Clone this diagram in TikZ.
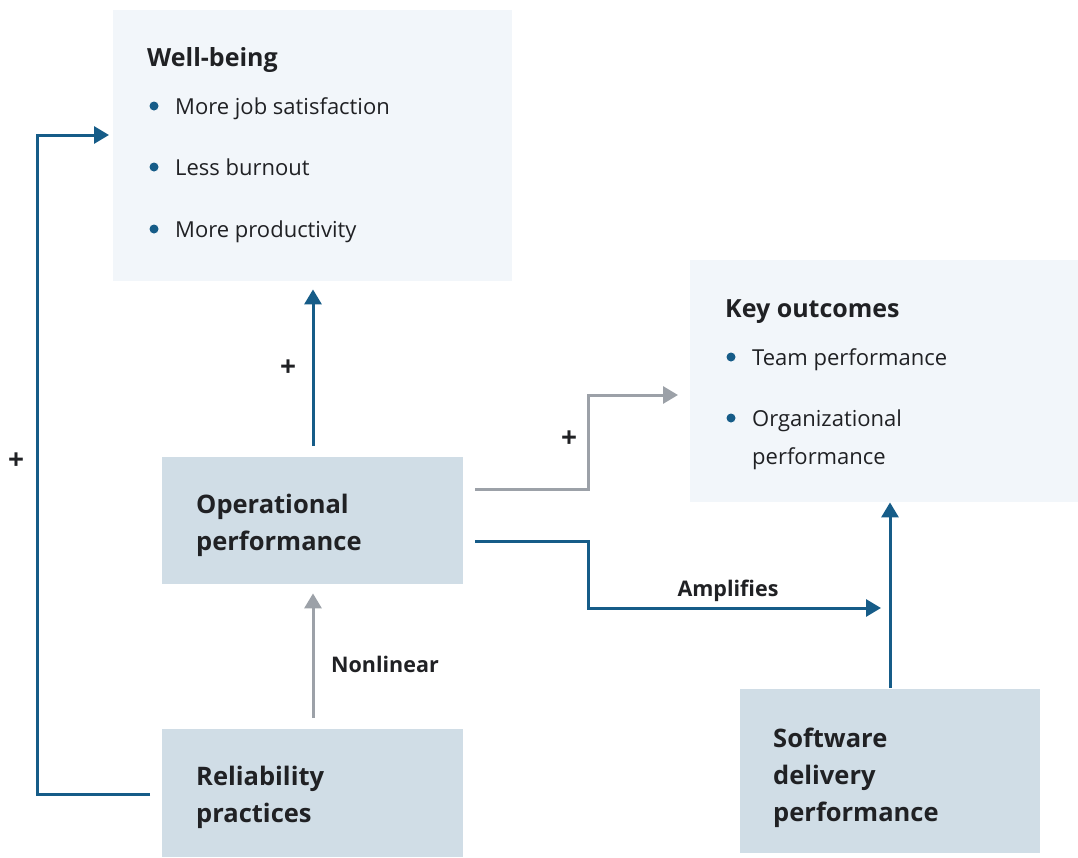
\documentclass[tikz,border=0pt]{standalone}
\usepackage{fontspec}
\setmainfont{Open Sans}
\usetikzlibrary{arrows.meta,calc}
\definecolor{lightbox}{HTML}{F2F6FA}
\definecolor{darkbox}{HTML}{D0DDE6}
\definecolor{arrblue}{HTML}{165C88}
\definecolor{arrgray}{HTML}{9CA1A8}
\definecolor{txt}{HTML}{202124}
\tikzset{
  panel/.style={fill=lightbox,draw=none,inner sep=0,anchor=north west},
  block/.style={fill=darkbox,draw=none,inner sep=0,anchor=north west},
  bluearr/.style={draw=arrblue,line width=3pt,-{Triangle[length=15pt,width=17pt]}},
  grayarr/.style={draw=arrgray,line width=3pt,-{Triangle[length=15pt,width=17pt]}},
  ttl/.style={inner sep=0,anchor=base west,font=\fontsize{25}{30}\selectfont\bfseries,text=txt},
  bigttl/.style={inner sep=0,anchor=base west,font=\fontsize{25.5}{30}\selectfont\bfseries,text=txt},
  item/.style={inner sep=0,anchor=base west,font=\fontsize{22}{26}\selectfont,text=txt},
  lbl/.style={inner sep=0,anchor=base,font=\fontsize{21.5}{26}\selectfont\bfseries,text=txt},
  plus/.style={inner sep=0,anchor=center,font=\fontsize{28}{30}\selectfont\bfseries,text=txt},
  dot/.style={circle,fill=arrblue,inner sep=0,minimum size=9pt}
}
\begin{document}
\begin{tikzpicture}[x=1pt,y=-1pt]
\useasboundingbox (0,0) rectangle (1078,857);
% boxes
\node[panel,minimum width=399pt,minimum height=271pt] (wb) at (113,10) {};
\node[panel,minimum width=388pt,minimum height=242pt] (ko) at (690,260) {};
\node[block,minimum width=301pt,minimum height=127pt] (op) at (162,457) {};
\node[block,minimum width=301pt,minimum height=128pt] (rel) at (162,729) {};
\node[block,minimum width=300pt,minimum height=164pt] (sd) at (740,689) {};
% texts
\node[ttl] (wbt) at (147,66) {Well-being};
\node[dot] (d1) at (154,106) {};
\node[item] (i1) at (175,114) {More job satisfaction};
\node[dot] (d2) at (154,167) {};
\node[item] (i2) at (175,175) {Less burnout};
\node[dot] (d3) at (154,229) {};
\node[item] (i3) at (175,237) {More productivity};
\node[ttl] (kot) at (725,317) {Key outcomes};
\node[dot] (d4) at (731,357) {};
\node[item] (i4) at (752,365) {Team performance};
\node[dot] (d5) at (731,418) {};
\node[item] (i5) at (752,426) {Organizational};
\node[item] (i6) at (752,464) {performance};
\node[bigttl] (opt1) at (196,513) {Operational};
\node[bigttl] (opt2) at (196,550) {performance};
\node[bigttl] (relt1) at (196,785) {Reliability};
\node[bigttl] (relt2) at (196,822) {practices};
\node[bigttl] (sdt1) at (773,747) {Software};
\node[bigttl] (sdt2) at (773,784) {delivery};
\node[bigttl] (sdt3) at (773,821) {performance};
% corner coordinates
\coordinate (c1) at (37,794);
\coordinate (c2) at (37,135);
\coordinate (c3) at (588,489);
\coordinate (c4) at (588,395);
\coordinate (c5) at (588,541);
\coordinate (c6) at (588,608);
% connectors
\draw[bluearr] ([xshift=-12pt]rel.west |- c1) -- (c1) -- (c2) -- ([xshift=-4pt]wb.west |- c2);
\draw[bluearr] ([yshift=11pt]op.north -| 313,0) -- ([yshift=-8pt]wb.south -| 313,0);
\draw[grayarr] ([xshift=12pt]op.east |- c3) -- (c3) -- (c4) -- ([xshift=-12pt]ko.west |- c4);
\draw[bluearr] ([xshift=12pt]op.east |- c5) -- (c5) -- (c6) -- (881,608);
\draw[bluearr] ([yshift=1pt]sd.north -| 890,0) -- (ko.south -| 890,0);
\draw[grayarr] ([yshift=11pt]rel.north -| 313,0) -- ([yshift=-9pt]op.south -| 313,0);
% labels
\node[plus] (p1) at (288,368) {+};
\node[plus] (p2) at (16,461) {+};
\node[plus] (p3) at (569,439) {+};
\node[lbl] (amp) at (728,596) {Amplifies};
\node[lbl] (nl) at (385,672) {Nonlinear};
\end{tikzpicture}
\end{document}
